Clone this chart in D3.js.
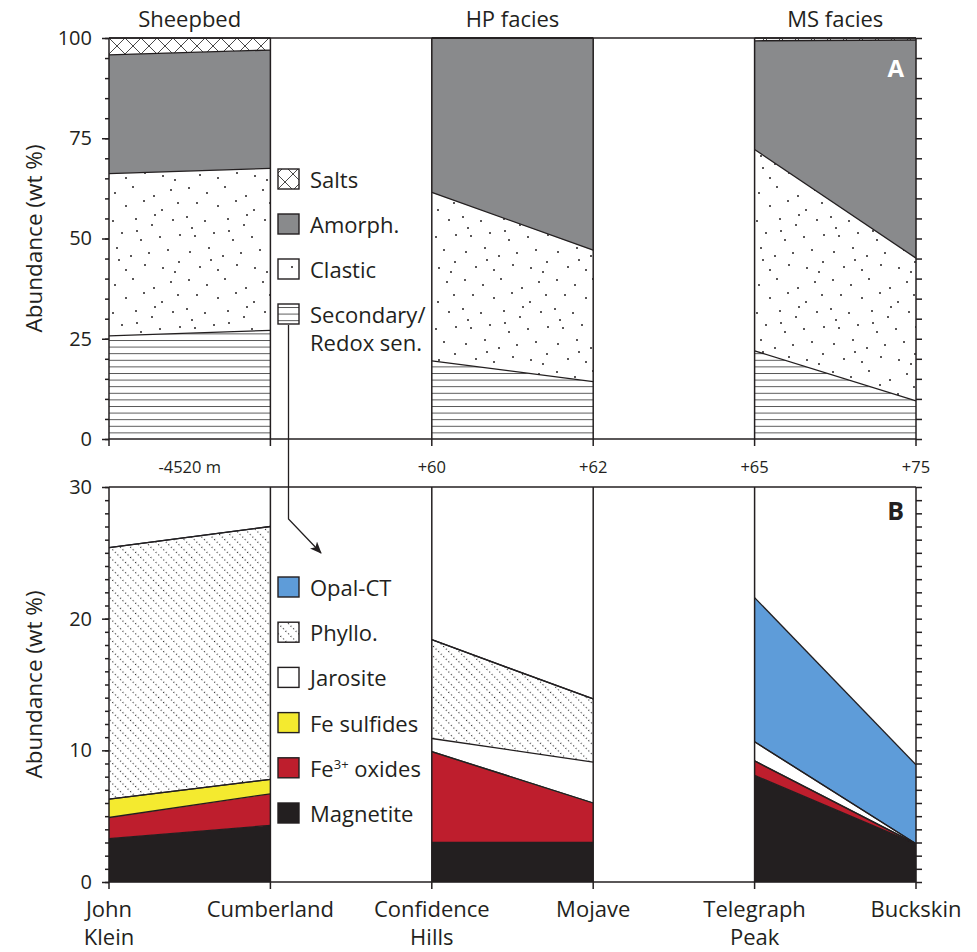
<!DOCTYPE html>
<html><head><meta charset="utf-8">
<script src="https://cdn.jsdelivr.net/npm/d3@7"></script>
<style>
body{margin:0;background:#fff}
text{font-family:"Open Sans",sans-serif;fill:#231f20}
</style>
</head><body>
<svg id="chart" width="977" height="952"></svg>
<script>
// ---------- DATA ----------
const locations = ["John Klein","Cumberland","Confidence Hills","Mojave","Telegraph Peak","Buckskin"];
const locationLines = [["John","Klein"],["Cumberland"],["Confidence","Hills"],["Mojave"],["Telegraph","Peak"],["Buckskin"]];
const groupLabels = ["Sheepbed","HP facies","MS facies"];
const groupPairs = [[0,1],[2,3],[4,5]];
const elevationLabels = ["-4520 m","+60","+62","+65","+75"];
const elevationAt = [0.5, 2, 3, 4, 5];

// Panel A (wt %), bottom to top
const secondary = [25.7, 27.1, 19.5, 14.3, 22.0, 9.5];
const clastic   = [40.5, 40.4, 42.0, 32.8, 50.2, 35.6];
const amorph    = [29.6, 29.5, 38.5, 52.9, 27.1, 54.4];
const salts     = [4.2, 3.0, 0, 0, 0.7, 0.5];
const topKeys   = ["Secondary","Clastic","Amorph","Salts"];
const topLegend = ["Salts","Amorph.","Clastic","Secondary/|Redox sen."];
const topTicks  = [0,25,50,75,100];

// Panel B (wt %), bottom to top
const magnetite  = [3.3, 4.3, 3.0, 3.0, 8.1, 2.9];
const fe3oxides  = [1.6, 2.4, 6.9, 3.0, 1.1, 0];
const feSulfides = [1.4, 1.1, 0, 0, 0, 0];
const jarosite   = [0, 0, 1.0, 3.1, 1.45, 0];
const phyllo     = [19.1, 19.2, 7.5, 4.8, 0, 0];
const opalCT     = [0, 0, 0, 0, 10.95, 6.0];
const botKeys    = ["Magnetite","Fe3","FeS","Jarosite","Phyllo","Opal"];
const botLegend  = ["Opal-CT","Phyllo.","Jarosite","Fe sulfides","Fe3+ oxides","Magnetite"];
const botTicks   = [0,10,20,30];

// ---------- STYLE ----------
const INK = "#231f20";
const fills = {
  Secondary:"url(#pSecondary)", Clastic:"url(#pClastic)", Amorph:"#898a8c", Salts:"url(#pSalts)",
  Magnetite:"#231f20", Fe3:"#be1e2d", FeS:"#f4ea2f", Jarosite:"#ffffff", Phyllo:"url(#pPhyllo)", Opal:"#5e9cd9"
};
const topLegendKeys = ["Salts","Amorph","Clastic","Secondary"];
const botLegendKeys = ["Opal","Phyllo","Jarosite","FeS","Fe3","Magnetite"];

const svg = d3.select("#chart");
const defs = svg.append("defs");

// patterns
const pS = defs.append("pattern").attr("id","pSalts").attr("patternUnits","userSpaceOnUse")
  .attr("x",109).attr("y",38).attr("width",16).attr("height",16);
pS.append("rect").attr("width",16).attr("height",16).attr("fill","#fff");
pS.append("path").attr("d","M0,0L16,16M16,0L0,16").attr("stroke","#333").attr("stroke-width",0.9);

// irregular stipple tile for "Clastic"
const dots = [[5,4],[23,9],[41,3],[62,12],[79,6],[13,19],[34,22],[52,17],[70,26],[86,19],
  [3,33],[21,37],[44,35],[60,41],[81,36],[11,52],[30,49],[49,56],[68,53],[88,51],
  [6,68],[25,64],[39,72],[57,69],[76,66],[16,83],[34,86],[53,81],[71,84],[87,78],
  [45,47],[27,76],[63,31],[8,44],[83,88]];
const pC = defs.append("pattern").attr("id","pClastic").attr("patternUnits","userSpaceOnUse")
  .attr("width",92).attr("height",92);
pC.append("rect").attr("width",92).attr("height",92).attr("fill","#fff");
pC.selectAll("circle").data(dots).join("circle").attr("cx",d=>d[0]).attr("cy",d=>d[1]).attr("r",1).attr("fill",INK);

const pH = defs.append("pattern").attr("id","pSecondary").attr("patternUnits","userSpaceOnUse")
  .attr("y",439).attr("width",10).attr("height",6.6);
pH.append("rect").attr("width",10).attr("height",6.6).attr("fill","#fff");
pH.append("line").attr("x1",0).attr("x2",10).attr("y1",0.5).attr("y2",0.5).attr("stroke","#444").attr("stroke-width",0.9);

const pP = defs.append("pattern").attr("id","pPhyllo").attr("patternUnits","userSpaceOnUse")
  .attr("width",7.2).attr("height",3.6).attr("patternTransform","rotate(-45)");
pP.append("rect").attr("width",7.2).attr("height",3.6).attr("fill","#fff");
pP.append("rect").attr("width",1.1).attr("height",1.1).attr("fill","#222");

defs.append("marker").attr("id","arrow").attr("viewBox","0 0 12 10").attr("refX",11).attr("refY",5)
  .attr("markerWidth",12).attr("markerHeight",10).attr("markerUnits","userSpaceOnUse").attr("orient","auto")
  .append("path").attr("d","M0,0L12,5L0,10L3,5Z").attr("fill",INK);

// ---------- SCALES ----------
const x = d3.scalePoint().domain(locations).range([109,916]);
const xi = i => { const a = Math.floor(i), b = Math.ceil(i); return x(locations[a]) + (x(locations[b]) - x(locations[a])) * (i - a); };

function panel(cfg){
  const {y, keys, series, majors, minorStep, leftMinor, leftMajor, rightLen} = cfg;
  const rows = locations.map((loc,i)=>{ const r={loc}; keys.forEach((k,j)=>r[k]=series[j][i]); return r; });
  const stack = d3.stack().keys(keys)(rows);
  const g = svg.append("g");
  const area = d3.area().x(d=>x(d.data.loc)).y0(d=>y(d[0])).y1(d=>y(d[1]));
  const line = d3.line().x(d=>x(d.data.loc)).y(d=>y(d[1]));
  stack.forEach(s=>{
    groupPairs.forEach(([a,b])=>{
      g.append("path").attr("d",area([s[a],s[b]])).attr("fill",fills[s.key]).attr("stroke",fills[s.key].startsWith("#")?fills[s.key]:"none").attr("stroke-width",0.3);
    });
  });
  stack.forEach(s=>{
    groupPairs.forEach(([a,b])=>{
      g.append("path").attr("d",line([s[a],s[b]])).attr("fill","none").attr("stroke",INK).attr("stroke-width",1.3);
    });
  });
  const [y0,y1] = y.range();
  g.selectAll(".v").data(locations).join("line").attr("x1",d=>x(d)).attr("x2",d=>x(d))
    .attr("y1",y1).attr("y2",y0).attr("stroke",INK).attr("stroke-width",1.5);
  g.append("line").attr("x1",109).attr("x2",916).attr("y1",y1).attr("y2",y1).attr("stroke",INK).attr("stroke-width",1.5);
  g.append("line").attr("x1",109).attr("x2",916).attr("y1",y0).attr("y2",y0).attr("stroke",INK).attr("stroke-width",1.5);
  g.selectAll(".xt").data(locations).join("line").attr("x1",d=>x(d)).attr("x2",d=>x(d))
    .attr("y1",y0).attr("y2",y0+7).attr("stroke",INK).attr("stroke-width",1.5);
  const dom = y.domain();
  const minors = d3.range(dom[0], dom[1]+0.001, minorStep);
  const styleAxis = sel => { sel.select(".domain").remove(); sel.selectAll("line").attr("stroke",INK).attr("stroke-width",1.5); };
  svg.append("g").attr("transform","translate(109,0)").call(d3.axisLeft(y).tickValues(minors).tickSize(leftMinor).tickFormat("")).call(styleAxis);
  svg.append("g").attr("transform","translate(109,0)").call(d3.axisLeft(y).tickValues(majors).tickSize(leftMajor).tickPadding(10))
    .call(styleAxis).call(s=>s.selectAll("text").attr("font-size",20).attr("font-family","Open Sans").attr("fill",INK));
  svg.append("g").attr("transform","translate(916,0)").call(d3.axisRight(y).tickValues(minors).tickSize(rightLen).tickFormat("")).call(styleAxis);
  svg.append("text").attr("transform",`translate(42,${(y0+y1)/2}) rotate(-90)`).attr("text-anchor","middle")
    .attr("font-size",22.5).text("Abundance (wt %)");
}

const yTop = d3.scaleLinear().domain([0,100]).range([439,38]);
const yBot = d3.scaleLinear().domain([0,30]).range([882,487]);

panel({y:yTop, keys:topKeys, series:[secondary,clastic,amorph,salts], majors:topTicks, minorStep:5, leftMinor:4, leftMajor:7, rightLen:6});
panel({y:yBot, keys:botKeys, series:[magnetite,fe3oxides,feSulfides,jarosite,phyllo,opalCT], majors:botTicks, minorStep:1, leftMinor:4, leftMajor:7, rightLen:6});

svg.selectAll(".grp").data(groupLabels).join("text").attr("x",(d,i)=>(x(locations[groupPairs[i][0]])+x(locations[groupPairs[i][1]]))/2)
  .attr("y",27).attr("text-anchor","middle").attr("font-size",22).text(d=>d);
svg.selectAll(".elev").data(elevationLabels).join("text").attr("x",(d,i)=>xi(elevationAt[i]))
  .attr("y",473).attr("text-anchor","middle").attr("font-size",16.5).text(d=>d);
locationLines.forEach((lines,i)=>{
  lines.forEach((t,j)=>{
    svg.append("text").attr("x",x(locations[i])).attr("y",917+j*28).attr("text-anchor","middle").attr("font-size",22).text(t);
  });
});
svg.append("text").attr("x",904).attr("y",77).attr("text-anchor","end").attr("font-size",24).attr("font-weight","bold").style("fill","#fff").text("A");
svg.append("text").attr("x",904).attr("y",520).attr("text-anchor","end").attr("font-size",25).attr("font-weight","bold").text("B");

function legend(labels, keys, y0, step){
  labels.forEach((lab,i)=>{
    const yy = y0 + i*step;
    svg.append("rect").attr("x",278).attr("y",yy).attr("width",21).attr("height",20)
      .attr("fill",fills[keys[i]]).attr("stroke",INK).attr("stroke-width",1.4);
    const t = svg.append("text").attr("x",310).attr("y",yy+19).attr("font-size",22);
    if (lab.includes("|")) {
      lab.split("|").forEach((p,j)=>t.append("tspan").attr("x",310).attr("dy",j?28:0).text(p));
    } else if (lab.startsWith("Fe3+")) {
      t.append("tspan").text("Fe");
      t.append("tspan").attr("font-size",13).attr("dy",-8).text("3+");
      t.append("tspan").attr("dy",8).text(" oxides");
    } else t.text(lab);
  });
}
legend(topLegend, topLegendKeys, 169, 45);
legend(botLegend, botLegendKeys, 577, 45.2);

svg.append("path").attr("d","M288.5,325V519L321,553").attr("fill","none").attr("stroke",INK).attr("stroke-width",1.3).attr("marker-end","url(#arrow)");
</script>
</body></html>
